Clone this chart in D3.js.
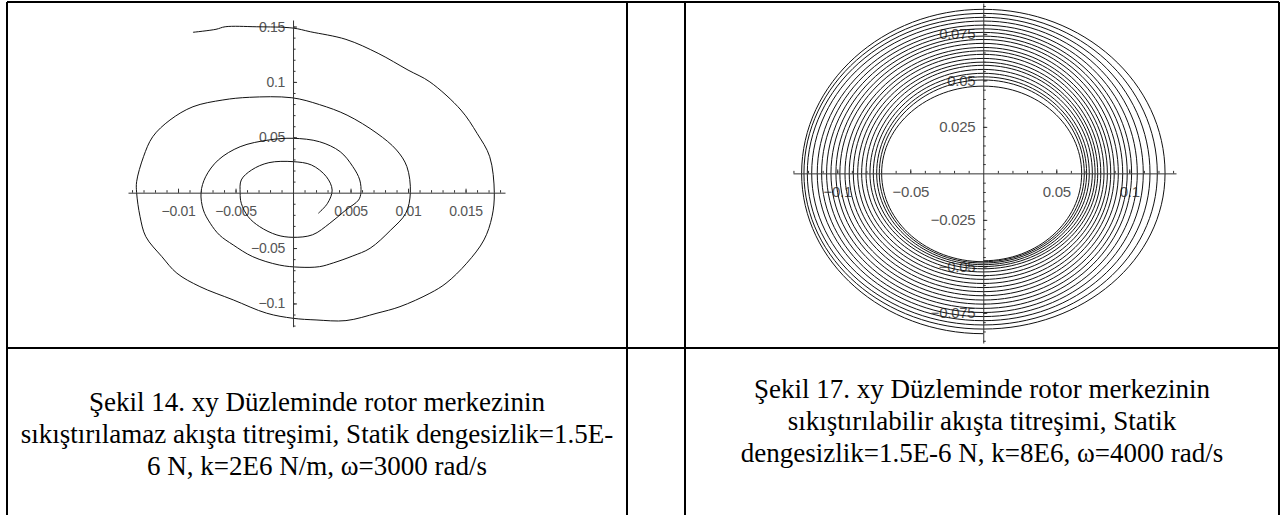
<!DOCTYPE html>
<html>
<head>
<meta charset="utf-8">
<script src="https://cdn.jsdelivr.net/npm/d3@7"></script>
<style>
  body { margin: 0; background: #fff; }
  svg { display: block; }
</style>
</head>
<body>
<svg id="chart" width="1286" height="515"></svg>
<script>
// Şekil 14: spiral traced from the inner end outwards (x, y as plotted)
const spiral14X = [0.0022, 0.0030, 0.0034, 0.0029, 0.0016, 0.0000, -0.0021, -0.0036, -0.0045, -0.0046,
  -0.0045, -0.0039, -0.0029, -0.0014, 0.0000, 0.0017, 0.0032, 0.0046, 0.0057, 0.0059,
  0.0058, 0.0052, 0.0041, 0.0023, 0.0000, -0.0021, -0.0046, -0.0065, -0.0076, -0.0080,
  -0.0078, -0.0072, -0.0064, -0.0052, -0.0035, -0.0012, 0.0006, 0.0023, 0.0035, 0.0052,
  0.0067, 0.0085, 0.0098, 0.0102, 0.0099, 0.0090, 0.0073, 0.0047, 0.0023, -0.0001,
  -0.0038, -0.0061, -0.0087, -0.0107, -0.0122, -0.0130, -0.0136, -0.0136, -0.0133, -0.0128,
  -0.0114, -0.0101, -0.0081, -0.0052, -0.0023, 0.0000, 0.0020, 0.0046, 0.0073, 0.0093,
  0.0119, 0.0133, 0.0151, 0.0166, 0.0173, 0.0175, 0.0171, 0.0160, 0.0146, 0.0119,
  0.0100, 0.0074, 0.0046, 0.0015, 0.0000, -0.0032, -0.0059, -0.0067, -0.0087];
const spiral14Y = [-0.0186, -0.0096, 0.0024, 0.0144, 0.0250, 0.0280, 0.0271, 0.0205, 0.0115, 0.0000,
  -0.0096, -0.0217, -0.0307, -0.0382, -0.0403, -0.0380, -0.0276, -0.0156, -0.0066, 0.0000,
  0.0115, 0.0235, 0.0370, 0.0460, 0.0491, 0.0476, 0.0415, 0.0295, 0.0144, 0.0000,
  -0.0156, -0.0276, -0.0382, -0.0472, -0.0578, -0.0653, -0.0673, -0.0668, -0.0634, -0.0571,
  -0.0502, -0.0337, -0.0186, 0.0000, 0.0235, 0.0385, 0.0536, 0.0700, 0.0795, 0.0857,
  0.0861, 0.0837, 0.0776, 0.0656, 0.0505, 0.0325, 0.0099, 0.0000, -0.0217, -0.0397,
  -0.0578, -0.0727, -0.0848, -0.0968, -0.1088, -0.1134, -0.1149, -0.1155, -0.1088, -0.1029,
  -0.0908, -0.0818, -0.0637, -0.0427, -0.0217, 0.0000, 0.0325, 0.0536, 0.0746, 0.1000,
  0.1107, 0.1258, 0.1384, 0.1453, 0.1486, 0.1498, 0.1498, 0.1475, 0.1448];

// Şekil 17: where each turn crosses the axes, inner turn first
const ring17Bottom = [-0.0470, -0.0475, -0.0482, -0.0491, -0.0501, -0.0513, -0.0530, -0.0550, -0.0570, -0.0592,
  -0.0614, -0.0636, -0.0658, -0.0681, -0.0703, -0.0726, -0.0748, -0.0770, -0.0792, -0.0815,
  -0.0837, -0.0862];
const ring17Right = [0.0674, 0.0692, 0.0708, 0.0726, 0.0747, 0.0766, 0.0784, 0.0805, 0.0827, 0.0850,
  0.0873, 0.0897, 0.0925, 0.0955, 0.0986, 0.1016, 0.1055, 0.1096, 0.1142, 0.1192, 0.1245];
const ring17Top = [0.0469, 0.0502, 0.0519, 0.0538, 0.0559, 0.0581, 0.0598, 0.0618, 0.0640, 0.0659,
  0.0677, 0.0699, 0.0720, 0.0738, 0.0758, 0.0777, 0.0797, 0.0819, 0.0839, 0.0860, 0.0882];
const ring17Left = [-0.0696, -0.0712, -0.0730, -0.0753, -0.0776, -0.0803, -0.0833, -0.0860, -0.0890, -0.0918,
  -0.0947, -0.0982, -0.1009, -0.1043, -0.1073, -0.1107, -0.1137, -0.1175, -0.1205, -0.1228, -0.1244];

// labelled ticks
const ticks14X = [-0.01, -0.005, 0.005, 0.01, 0.015];
const ticks14Y = [-0.1, -0.05, 0.05, 0.1, 0.15];
const ticks17X = [-0.1, -0.05, 0.05, 0.1];
const ticks17Y = [-0.075, -0.05, -0.025, 0.025, 0.05, 0.075];

const caption14 = [
  "Şekil 14. xy Düzleminde rotor merkezinin",
  "sıkıştırılamaz akışta titreşimi, Statik dengesizlik=1.5E-",
  "6 N, k=2E6 N/m, ω=3000 rad/s"
];
const caption17 = [
  "Şekil 17. xy Düzleminde rotor merkezinin",
  "sıkıştırılabilir akışta titreşimi, Statik",
  "dengesizlik=1.5E-6 N, k=8E6, ω=4000 rad/s"
];

const svg = d3.select("#chart");

// table frame
const frame = svg.append("g").attr("stroke", "#000").attr("stroke-width", 2);
[[7, 2, 1279, 2], [7, 348, 1279, 348], [7, 2, 7, 515], [627, 2, 627, 515],
 [685, 2, 685, 515], [1279, 2, 1279, 515]].forEach(([x1, y1, x2, y2]) => {
  frame.append("line").attr("x1", x1).attr("y1", y1).attr("x2", x2).attr("y2", y2);
});

const fmt = (d) => String(d).replace("-", "\u2212");

// quarter-turn elliptic arcs between successive axis crossings
function crossingPath(points, x, y) {
  const k = 0.5523;
  const P = points.map((d) => [x(d[0]), y(d[1]), d[1] === 0]);
  const p = d3.path();
  p.moveTo(P[0][0], P[0][1]);
  for (let i = 1; i < P.length; i++) {
    const a = P[i - 1], b = P[i];
    const c1 = a[2] ? [a[0], a[1] + k * (b[1] - a[1])] : [a[0] + k * (b[0] - a[0]), a[1]];
    const c2 = b[2] ? [b[0], b[1] + k * (a[1] - b[1])] : [b[0] + k * (a[0] - b[0]), b[1]];
    p.bezierCurveTo(c1[0], c1[1], c2[0], c2[1], b[0], b[1]);
  }
  return p.toString();
}

function plot(opts) {
  const { x, y, majorX, majorY, minorX, minorY, fontSize, pathD } = opts;
  const g = svg.append("g");

  // labels first, the curve is drawn over them as in the original
  const ax = g.append("g").attr("transform", `translate(0,${y(0)})`)
    .call(d3.axisBottom(x).tickValues(majorX).tickSize(-4).tickSizeOuter(0).tickPadding(13).tickFormat(fmt));
  const ay = g.append("g").attr("transform", `translate(${x(0)},0)`)
    .call(d3.axisLeft(y).tickValues(majorY).tickSize(-4).tickSizeOuter(0).tickPadding(8).tickFormat(fmt));
  [ax, ay].forEach((a) => {
    a.select(".domain").remove();
    a.selectAll("line").attr("stroke", "#333");
    a.selectAll("text")
      .attr("font-family", "'Liberation Sans', Arial, sans-serif")
      .attr("font-size", fontSize)
      .attr("fill", "#555")
      .attr("letter-spacing", -0.3);
  });

  g.append("path")
    .attr("d", pathD)
    .attr("fill", "none")
    .attr("stroke", "#111")
    .attr("stroke-width", 1);

  const mx = g.append("g").attr("transform", `translate(0,${y(0)})`)
    .call(d3.axisBottom(x).tickValues(minorX).tickSize(-2.5).tickSizeOuter(0).tickFormat(""));
  const my = g.append("g").attr("transform", `translate(${x(0)},0)`)
    .call(d3.axisLeft(y).tickValues(minorY).tickSize(-2.5).tickSizeOuter(0).tickFormat(""));
  [mx, my].forEach((a) => a.selectAll("path, line").attr("stroke", "#333"));
}

// Şekil 14
const x14 = d3.scaleLinear().domain([-0.01435, 0.01843]).range([128, 505]);
const y14 = d3.scaleLinear().domain([-0.121, 0.1559]).range([326.7, 20]);
const line14 = d3.line().x((d) => x14(d[0])).y((d) => y14(d[1])).curve(d3.curveCatmullRom.alpha(0.5));
plot({
  x: x14, y: y14,
  majorX: ticks14X, majorY: ticks14Y,
  minorX: x14.ticks(30).filter((d) => d !== 0),
  minorY: y14.ticks(25).filter((d) => d !== 0),
  fontSize: 14,
  pathD: line14(spiral14X.map((v, i) => [v, spiral14Y[i]]))
});

// Şekil 17
const x17 = d3.scaleLinear().domain([-0.1303, 0.132]).range([793, 1176]);
const y17 = d3.scaleLinear().domain([-0.0912, 0.0916]).range([343, 3]);
const pts17 = [];
ring17Right.forEach((r, i) => {
  pts17.push([0, ring17Bottom[i]], [r, 0], [0, ring17Top[i]], [ring17Left[i], 0]);
});
pts17.push([0, ring17Bottom[ring17Bottom.length - 1]]);
plot({
  x: x17, y: y17,
  majorX: ticks17X, majorY: ticks17Y,
  minorX: x17.ticks(25).filter((d) => d !== 0),
  minorY: y17.ticks(35).filter((d) => d !== 0),
  fontSize: 15,
  pathD: crossingPath(pts17, x17, y17)
});

// captions
function caption(lines, cx, y0) {
  svg.append("g")
    .attr("font-family", "'Liberation Serif', 'Times New Roman', serif")
    .attr("font-size", 27)
    .attr("fill", "#000")
    .attr("text-anchor", "middle")
    .selectAll("text")
    .data(lines)
    .join("text")
    .attr("x", cx)
    .attr("y", (d, i) => y0 + i * 32)
    .text((d) => d);
}
caption(caption14, 317, 411);
caption(caption17, 982, 398);
</script>
</body>
</html>
